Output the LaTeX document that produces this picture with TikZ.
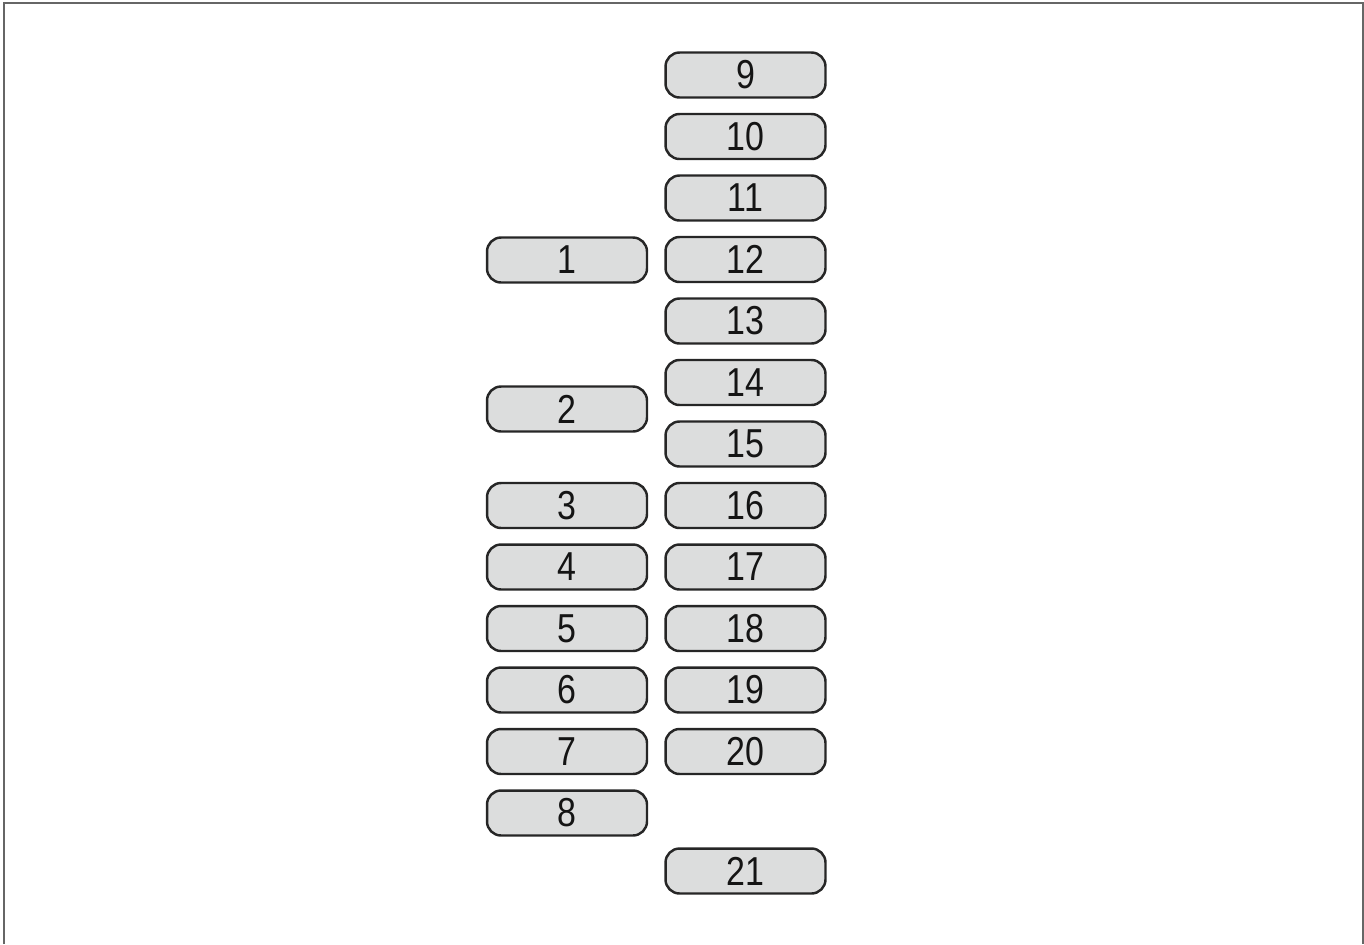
\documentclass[tikz,border=0pt]{standalone}
\usepackage{fontspec}
\setmainfont{Liberation Sans}[FakeStretch=0.84]
\usepackage{xcolor}
\definecolor{Frame}{HTML}{666666}
\definecolor{SlotFill}{HTML}{DCDDDD}
\definecolor{SlotLine}{HTML}{262626}
\definecolor{Text}{HTML}{141414}

\begin{document}
\begin{tikzpicture}[x=0.02cm,y=-0.02cm,every node/.style={text=Text},slot/.style={rounded corners=8pt,draw=SlotLine,line width=1.4pt,fill=SlotFill,minimum width=3.2cm,minimum height=0.9cm,inner sep=0pt,font=\fontsize{23}{25}\selectfont}]
\useasboundingbox (0,0) rectangle (1364,944);
\draw[Frame,line width=1.2pt] (4,944) -- (4,3) -- (1363,3) -- (1363,944);
% left column
\node[slot] (s1) at (567,260) {1};
\node[slot] (s2) at (567,409) {2};
\foreach \i in {3,...,8}
  \node[slot] (s\i) at (567,{505.5+61.5*(\i-3)}) {\i};
% right column
\foreach \i in {9,...,20}
  \node[slot] (s\i) at (745.5,{75+61.5*(\i-9)}) {\i};
\node[slot] (s21) at (745.5,871) {21};
\end{tikzpicture}
\end{document}
